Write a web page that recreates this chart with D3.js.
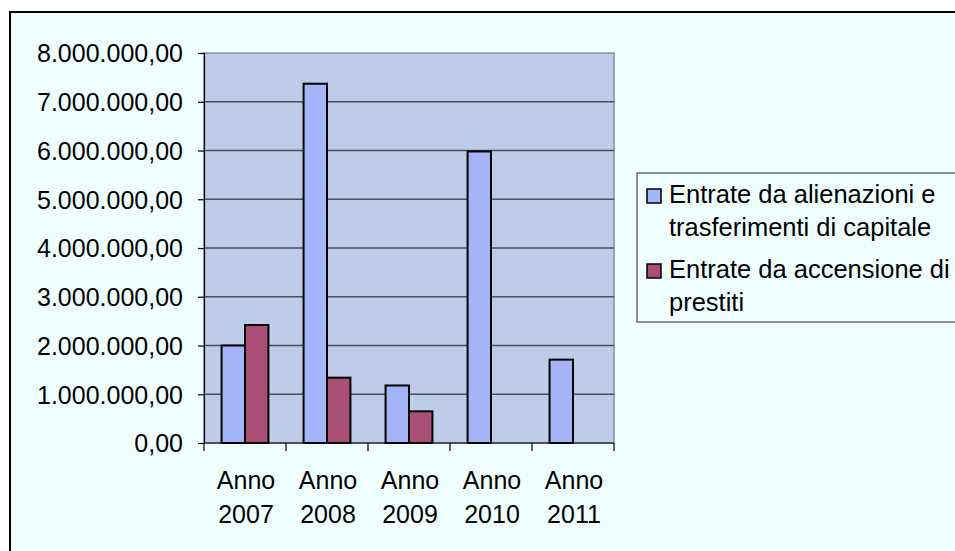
<!DOCTYPE html>
<html lang="it">
<head>
<meta charset="UTF-8">
<title>Entrate in conto capitale</title>
<style>
  body { margin: 0; background: #ffffff; }
  svg text { font-family: "Liberation Sans", Arial, sans-serif; fill: #000; }
</style>
</head>
<body>
<svg id="chart" width="955" height="551"></svg>
<script src="https://d3js.org/d3.v7.min.js"></script>
<script>
// dati
var anni = ["2007", "2008", "2009", "2010", "2011"];
var serie = ["Entrate da alienazioni e trasferimenti di capitale", "Entrate da accensione di prestiti"];
var alienazioni = [2000000, 7370000, 1180000, 5980000, 1710000];
var accensione = [2420000, 1340000, 650000, null, null];
var yTicks = [0, 1000000, 2000000, 3000000, 4000000, 5000000, 6000000, 7000000, 8000000];

var colori = ["#a4b4f8", "#a94f75"];

var svg = d3.select("#chart");

// sfondo e cornice del grafico
svg.append("rect").attr("x", 0).attr("y", 0).attr("width", 955).attr("height", 551).attr("fill", "#ffffff");
svg.append("rect")
    .attr("x", 10).attr("y", 12).attr("width", 960).attr("height", 560)
    .attr("fill", "#f0ffff").attr("stroke", "#000").attr("stroke-width", 2);

var plot = { left: 204, right: 614, top: 53, bottom: 443 };

var x0 = d3.scaleBand().domain(anni).range([plot.left, plot.right]).padding(0);
var x1 = d3.scaleBand().domain([0, 1]).range([0, x0.bandwidth()]).paddingInner(0).paddingOuter(0.75);
var y = d3.scaleLinear().domain([0, 8000000]).range([plot.bottom, plot.top]);

var it = d3.formatLocale({ decimal: ",", thousands: ".", grouping: [3], currency: ["€", ""] });
var fmt = it.format(",.2f");

// area del grafico
svg.append("rect")
    .attr("x", plot.left).attr("y", plot.top)
    .attr("width", plot.right - plot.left).attr("height", plot.bottom - plot.top)
    .attr("fill", "#bccce9").attr("stroke", "#8a8fa0").attr("stroke-width", 1.5);

// griglia
svg.append("g").selectAll("line")
    .data(yTicks.filter(function(d) { return d > 0 && d < 8000000; }))
    .join("line")
    .attr("x1", plot.left).attr("x2", plot.right)
    .attr("y1", function(d) { return y(d); }).attr("y2", function(d) { return y(d); })
    .attr("stroke", "#4a4f5c").attr("stroke-width", 1.5);

// barre
var righe = anni.map(function(a, i) { return { anno: a, valori: [alienazioni[i], accensione[i]] }; });

var gruppi = svg.append("g").selectAll("g")
    .data(righe)
    .join("g")
    .attr("transform", function(d) { return "translate(" + x0(d.anno) + ",0)"; });

gruppi.selectAll("rect")
    .data(function(d) { return d.valori.map(function(v, k) { return { k: k, v: v }; }).filter(function(o) { return o.v != null; }); })
    .join("rect")
    .attr("x", function(d) { return x1(d.k); })
    .attr("width", x1.bandwidth())
    .attr("y", function(d) { return y(d.v); })
    .attr("height", function(d) { return y(0) - y(d.v); })
    .attr("fill", function(d) { return colori[d.k]; })
    .attr("stroke", "#000").attr("stroke-width", 2);

// asse y
var yAxis = svg.append("g")
    .attr("transform", "translate(" + plot.left + ",0)")
    .call(d3.axisLeft(y).tickValues(yTicks).tickFormat(fmt).tickSize(6).tickPadding(15));
yAxis.select(".domain").attr("stroke", "#000").attr("stroke-width", 1.2);
yAxis.selectAll(".tick line").attr("stroke", "#000").attr("stroke-width", 1.2);
yAxis.selectAll(".tick text")
    .attr("font-size", 25).attr("dy", "0.35em")
    .style("font-family", "'Liberation Sans', Arial, sans-serif");

// asse x
var bordi = anni.map(function(a) { return x0(a); }).concat([plot.right]);
svg.append("line")
    .attr("x1", plot.left).attr("x2", plot.right)
    .attr("y1", plot.bottom).attr("y2", plot.bottom)
    .attr("stroke", "#000").attr("stroke-width", 1.2);
svg.append("g").selectAll("line")
    .data(bordi)
    .join("line")
    .attr("x1", function(d) { return d; }).attr("x2", function(d) { return d; })
    .attr("y1", plot.bottom).attr("y2", plot.bottom + 8)
    .attr("stroke", "#000").attr("stroke-width", 1.2);

var etichette = svg.append("g").selectAll("text")
    .data(anni)
    .join("text")
    .attr("x", function(d) { return x0(d) + x0.bandwidth() / 2 + 1; })
    .attr("y", 489)
    .attr("text-anchor", "middle")
    .attr("font-size", 25);
etichette.append("tspan").attr("x", function(d) { return x0(d) + x0.bandwidth() / 2 + 1; }).text("Anno");
etichette.append("tspan").attr("x", function(d) { return x0(d) + x0.bandwidth() / 2 + 1; }).attr("dy", 34).text(function(d) { return d; });

// legenda
var leg = svg.append("g");
leg.append("rect")
    .attr("x", 637).attr("y", 173).attr("width", 330).attr("height", 149)
    .attr("fill", "#f0ffff").attr("stroke", "#6e6e6e").attr("stroke-width", 1.5);

var righeLegenda = [["Entrate da alienazioni e", "trasferimenti di capitale"], ["Entrate da accensione di", "prestiti"]];
righeLegenda.forEach(function(r, i) {
    var base = 203 + i * 75;
    leg.append("rect")
        .attr("x", 647).attr("y", base - 14).attr("width", 14).attr("height", 14)
        .attr("fill", colori[i]).attr("stroke", "#000").attr("stroke-width", 1.5);
    var t = leg.append("text").attr("x", 669).attr("y", base).attr("font-size", 25.5);
    t.append("tspan").attr("x", 669).text(r[0]);
    t.append("tspan").attr("x", 669).attr("dy", 33).text(r[1]);
});
</script>
</body>
</html>
